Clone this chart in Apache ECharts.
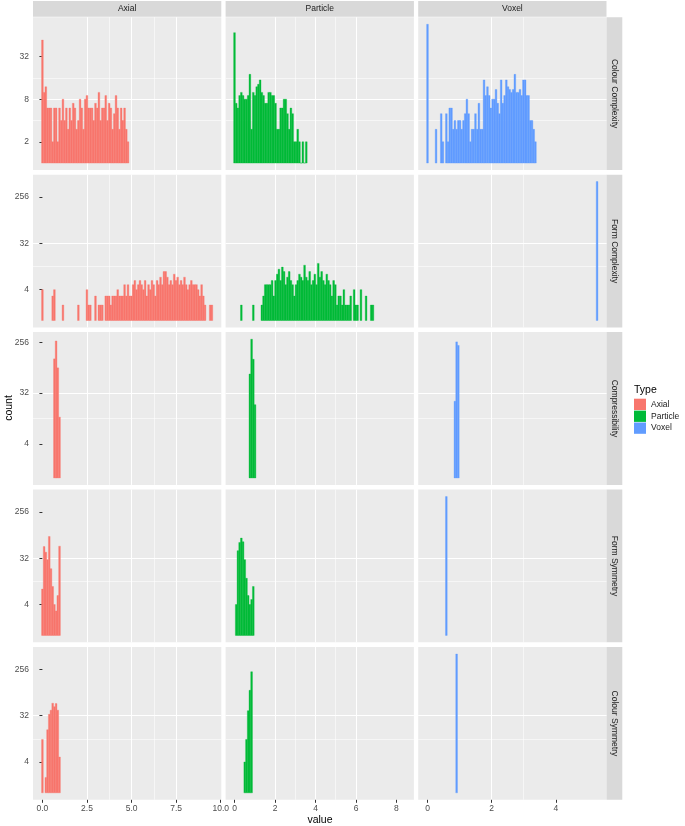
<!DOCTYPE html>
<html>
<head>
<meta charset="utf-8">
<script src="https://cdn.jsdelivr.net/npm/echarts@6/dist/echarts.min.js"></script>
<style>html,body{margin:0;padding:0;background:#fff}#chart{width:685px;height:826px}</style>
</head>
<body>
<div id="chart"></div>
<script>
// ---------------- data ----------------
const types = ['Axial', 'Particle', 'Voxel'];
const measures = ['Colour Complexity', 'Form Complexity', 'Compressibility', 'Form Symmetry', 'Colour Symmetry'];

// x tick labels (major) and minor grid positions per column
const axialTicks = [0, 2.5, 5, 7.5, 10];
const particleTicks = [0, 2, 4, 6, 8];
const voxelTicks = [0, 2, 4];
const axialMinor = [1.25, 3.75, 6.25, 8.75];
const particleMinor = [1, 3, 5, 7];
const voxelMinor = [1, 3, 5];

// y (count, log2) tick labels
const countTicksRow1 = [2, 8, 32];
const countTicks = [4, 32, 256];
const countMinorRow1 = [1, 4, 16, 64];
const countMinor = [1.4142, 11.3137, 90.5097, 724.077];

// histogram bin widths per column (bins centred at k * width)
const binWidth = [0.096, 0.0844, 0.0534];

// counts per bin, starting at bin index given in *Start
const axialColourComplexityStart = 0;
const axialColourComplexity = [55, 10, 12, 6, 6, 6, 2, 6, 6, 2, 6, 4, 8, 4, 6, 3, 6, 4, 7, 6, 3, 4, 8, 6, 3, 8, 9, 6, 6, 6, 4, 7, 6, 10, 4, 6, 6, 9, 4, 7, 6, 3, 5, 9, 6, 3, 6, 4, 6, 3, 2];
const particleColourComplexityStart = 0;
const particleColourComplexity = [70, 7, 6, 9, 10, 9, 8, 8, 9, 18, 3, 10, 9, 12, 13, 15, 10, 9, 7, 7, 10, 10, 9, 9, 7, 3, 3, 6, 6, 8, 8, 5, 3, 6, 5, 2, 2, 3, 2, 1, 2, 1, 2];
const voxelColourComplexityStart = 0;
const voxelColourComplexity = [92, 0, 0, 0, 0, 3, 0, 0, 5, 2, 0, 5, 2, 6, 6, 3, 4, 3, 4, 4, 3, 4, 5, 8, 5, 2, 3, 3, 5, 3, 7, 3, 3, 15, 9, 12, 9, 6, 8, 8, 11, 7, 5, 15, 7, 9, 15, 12, 11, 10, 11, 18, 10, 10, 11, 9, 15, 15, 9, 9, 4, 4, 3, 2];

const axialFormComplexityStart = 0;
const axialFormComplexity = [4, 0, 0, 0, 0, 0, 3, 4, 0, 0, 0, 0, 2, 0, 0, 0, 0, 0, 0, 0, 0, 2, 0, 0, 0, 0, 4, 2, 2, 0, 0, 3, 0, 2, 2, 2, 0, 3, 3, 3, 2, 3, 3, 3, 4, 3, 3, 3, 5, 3, 5, 3, 3, 5, 6, 4, 5, 6, 5, 4, 6, 3, 5, 4, 6, 5, 3, 6, 5, 7, 5, 9, 9, 7, 5, 6, 5, 8, 6, 7, 5, 6, 5, 7, 5, 4, 5, 6, 5, 5, 5, 4, 3, 5, 3, 2, 0, 0, 2, 2];
const particleFormComplexityStart = 0;
const particleFormComplexity = [0, 0, 0, 0, 2, 0, 0, 0, 0, 0, 0, 2, 0, 0, 0, 0, 2, 3, 5, 5, 5, 5, 6, 3, 6, 8, 10, 6, 11, 9, 5, 7, 9, 6, 5, 3, 5, 6, 8, 7, 6, 12, 7, 6, 9, 5, 6, 8, 5, 13, 7, 9, 6, 5, 8, 6, 5, 3, 6, 5, 2, 3, 3, 2, 4, 2, 2, 2, 3, 0, 4, 2, 2, 0, 4, 0, 0, 3, 0, 0, 2, 2];
const voxelFormComplexityStart = 99;
const voxelFormComplexity = [512];

const axialCompressibilityStart = 7;
const axialCompressibility = [130, 270, 90, 12];
const particleCompressibilityStart = 9;
const particleCompressibility = [70, 290, 128, 20];
const voxelCompressibilityStart = 16;
const voxelCompressibility = [23, 260, 225];

const axialFormSymmetryStart = 0;
const axialFormSymmetry = [8, 54, 42, 30, 85, 20, 9, 4, 3, 6, 55];
const particleFormSymmetryStart = 1;
const particleFormSymmetry = [4, 45, 65, 79, 67, 30, 13, 6, 4, 5, 9];
const voxelFormSymmetryStart = 11;
const voxelFormSymmetry = [510];

const axialColourSymmetryStart = 0;
const axialColourSymmetry = [11, 0, 2, 17, 34, 41, 56, 48, 55, 41, 5];
const particleColourSymmetryStart = 6;
const particleColourSymmetry = [4, 11, 40, 100, 230];
const voxelColourSymmetryStart = 17;
const voxelColourSymmetry = [510];

// ---------------- layout / style ----------------
const colours = ['#F8766D', '#00BA38', '#619CFF'];
const FONT = '"Liberation Sans", Arial, sans-serif';
const colLeft = [33, 225.6, 418.2], colWidth = 188.3;
const rowTop = [17.2, 174.65, 332.1, 489.55, 647], rowHeight = 152.8;
const xRange = [[-0.528, 10.032], [-0.44, 8.86], [-0.29, 5.58]];
const yLogRange = [[-0.3265, 6.8565], [-0.45, 9.45], [-0.41, 8.6], [-0.45, 9.45], [-0.45, 9.45]];

const panelCounts = [
  [axialColourComplexity, particleColourComplexity, voxelColourComplexity],
  [axialFormComplexity, particleFormComplexity, voxelFormComplexity],
  [axialCompressibility, particleCompressibility, voxelCompressibility],
  [axialFormSymmetry, particleFormSymmetry, voxelFormSymmetry],
  [axialColourSymmetry, particleColourSymmetry, voxelColourSymmetry]
];
const panelStart = [
  [axialColourComplexityStart, particleColourComplexityStart, voxelColourComplexityStart],
  [axialFormComplexityStart, particleFormComplexityStart, voxelFormComplexityStart],
  [axialCompressibilityStart, particleCompressibilityStart, voxelCompressibilityStart],
  [axialFormSymmetryStart, particleFormSymmetryStart, voxelFormSymmetryStart],
  [axialColourSymmetryStart, particleColourSymmetryStart, voxelColourSymmetryStart]
];
const xTicks = [axialTicks, particleTicks, voxelTicks];
const xMinor = [axialMinor, particleMinor, voxelMinor];
const xFmt = [v => Number(v).toFixed(1), v => String(Math.round(v)), v => String(Math.round(v))];

const grids = [], xAxes = [], yAxes = [], series = [], graphics = [];

for (let r = 0; r < 5; r++) {
  for (let c = 0; c < 3; c++) {
    const g = r * 3 + c;
    grids.push({
      left: colLeft[c], top: rowTop[r], width: colWidth, height: rowHeight,
      show: true, backgroundColor: '#EBEBEB', borderWidth: 0
    });
    const yMin = Math.pow(2, yLogRange[r][0]), yMax = Math.pow(2, yLogRange[r][1]);
    const yt = r === 0 ? countTicksRow1 : countTicks;
    const ym = r === 0 ? countMinorRow1 : countMinor;
    // minor x
    xAxes.push({
      gridIndex: g, type: 'value', position: 'bottom', min: xRange[c][0], max: xRange[c][1],
      axisLine: { show: false }, axisTick: { show: false, customValues: xMinor[c] },
      axisLabel: { show: false, customValues: xMinor[c] },
      splitLine: { show: true, showMinLine: false, showMaxLine: false, lineStyle: { color: '#FFFFFF', width: 0.55 } }
    });
    // major x
    xAxes.push({
      gridIndex: g, type: 'value', position: 'bottom', min: xRange[c][0], max: xRange[c][1],
      axisLine: { show: false },
      axisTick: { show: r === 4, customValues: xTicks[c], length: 3, lineStyle: { color: '#333333', width: 1 } },
      axisLabel: { show: r === 4, customValues: xTicks[c], formatter: xFmt[c], color: '#4D4D4D', fontSize: 8.5, fontFamily: FONT, margin: 4 },
      splitLine: { show: true, showMinLine: false, showMaxLine: false, lineStyle: { color: '#FFFFFF', width: 1.1 } }
    });
    // minor y
    yAxes.push({
      gridIndex: g, type: 'log', logBase: 2, position: 'left', min: yMin, max: yMax,
      axisLine: { show: false }, axisTick: { show: false, customValues: ym },
      axisLabel: { show: false, customValues: ym },
      splitLine: { show: true, showMinLine: false, showMaxLine: false, lineStyle: { color: '#FFFFFF', width: 0.55 } }
    });
    // major y
    yAxes.push({
      gridIndex: g, type: 'log', logBase: 2, position: 'left', min: yMin, max: yMax,
      axisLine: { show: false },
      axisTick: { show: c === 0, customValues: yt, length: 3, lineStyle: { color: '#333333', width: 1 } },
      axisLabel: { show: c === 0, customValues: yt, formatter: v => String(Math.round(v)), color: '#4D4D4D', fontSize: 8.5, fontFamily: FONT, margin: 4 },
      splitLine: { show: true, showMinLine: false, showMaxLine: false, lineStyle: { color: '#FFFFFF', width: 1.1 } }
    });

    const w = binWidth[c];
    const data = [];
    panelCounts[r][c].forEach((n, i) => {
      if (n > 0) {
        const k = panelStart[r][c] + i;
        data.push([k * w - w / 2, k * w + w / 2, n]);
      }
    });
    const col = colours[c];
    series.push({
      type: 'custom', name: types[c], coordinateSystem: 'cartesian2d',
      xAxisIndex: g * 2 + 1, yAxisIndex: g * 2 + 1, clip: true,
      itemStyle: { color: col },
      encode: { x: [0, 1], y: 2 },
      data: data,
      renderItem: function (params, api) {
        const p0 = api.coord([api.value(0), api.value(2)]);
        const p1 = api.coord([api.value(1), 1]);
        return {
          type: 'rect',
          shape: { x: p0[0], y: p0[1], width: p1[0] - p0[0], height: p1[1] - p0[1] },
          style: { fill: col, stroke: col, lineWidth: 0.35 }
        };
      }
    });
  }
}

// strips (top: types, right: measures)
for (let c = 0; c < 3; c++) {
  graphics.push({ type: 'rect', shape: { x: colLeft[c], y: 1, width: colWidth, height: 15.7 }, style: { fill: '#D9D9D9' }, silent: true });
  graphics.push({ type: 'text', x: colLeft[c] + colWidth / 2, y: 9, style: { text: types[c], fill: '#1A1A1A', font: '8.5px ' + FONT, align: 'center', verticalAlign: 'middle' }, silent: true });
}
for (let r = 0; r < 5; r++) {
  graphics.push({ type: 'rect', shape: { x: 606.5, y: rowTop[r], width: 15.8, height: rowHeight }, style: { fill: '#D9D9D9' }, silent: true });
  graphics.push({ type: 'text', x: 614.6, y: rowTop[r] + rowHeight / 2, rotation: -Math.PI / 2, style: { text: measures[r], fill: '#1A1A1A', font: '8.5px ' + FONT, align: 'center', verticalAlign: 'middle' }, silent: true });
}
// axis titles
graphics.push({ type: 'text', x: 9, y: 408, rotation: Math.PI / 2, style: { text: 'count', fill: '#000000', font: '10.5px ' + FONT, align: 'center', verticalAlign: 'middle' }, silent: true });
graphics.push({ type: 'text', x: 320, y: 820, style: { text: 'value', fill: '#000000', font: '10.5px ' + FONT, align: 'center', verticalAlign: 'middle' }, silent: true });
// legend title
graphics.push({ type: 'text', x: 634, y: 390, style: { text: 'Type', fill: '#000000', font: '10.5px ' + FONT, align: 'left', verticalAlign: 'middle' }, silent: true });

const chart = echarts.init(document.getElementById('chart'), null, { renderer: 'canvas' });
chart.setOption({
  animation: false,
  backgroundColor: '#FFFFFF',
  grid: grids,
  xAxis: xAxes,
  yAxis: yAxes,
  series: series,
  legend: {
    data: types, orient: 'vertical', left: 634, top: 398.7, padding: 0,
    itemWidth: 12, itemHeight: 11.3, itemGap: 0.6, icon: 'rect', selectedMode: false,
    textStyle: { fontSize: 8.5, color: '#1A1A1A', fontFamily: FONT }
  },
  graphic: graphics
});
</script>
</body>
</html>
